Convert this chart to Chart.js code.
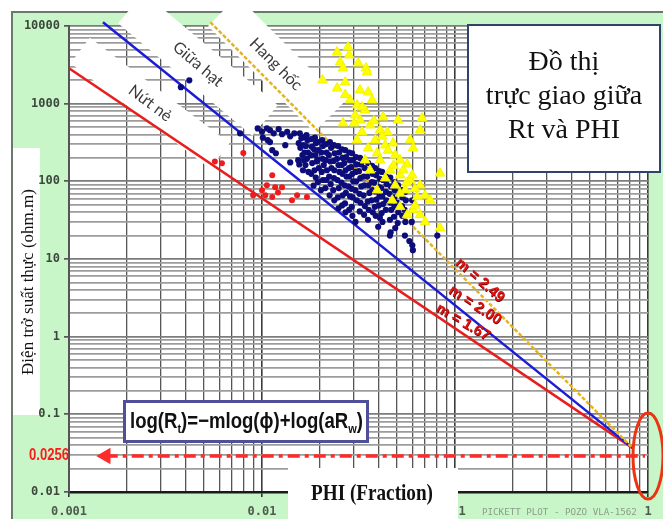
<!DOCTYPE html>
<html><head><meta charset="utf-8">
<script src="https://cdn.jsdelivr.net/npm/chart.js@4.4.0/dist/chart.umd.min.js"></script>
<style>html,body{margin:0;padding:0;background:#fff;overflow:hidden}canvas{display:block}</style>
</head><body>
<canvas id="c" width="663" height="519"></canvas>
<script>
// ---------- DATA ----------
const xTickLabels = ['0.001','0.01','0.1','1'];
const yTickLabels = ['0.01','0.1','1','10','100','1000','10000'];

// Nứt nẻ (red dots) [PHI, Rt]
const fracturePts = [[0.0080,231],[0.0062,171],[0.0057,180],[0.0113,120],[0.0106,89],[0.0117,84],[0.0127,84],
 [0.0090,66],[0.0104,66],[0.0113,63],[0.0152,66],[0.0143,57],[0.0171,63],[0.0100,77],[0.0121,72]];

// Giữa hạt (navy dots)
const intergranularPts = [
 [0.0042,2000],[0.0038,1630],[0.0077,415],
 [0.0095,480],[0.0100,435],[0.0106,480],[0.0110,456],[0.0115,415],[0.0101,365],[0.0107,339],[0.0122,470],[0.0127,405],
 [0.0135,435],[0.0140,380],[0.0147,415],[0.0110,320],[0.0113,252],[0.0118,230],[0.0140,175],[0.0154,187],[0.0132,292],
 [0.0157,415],[0.0160,360],[0.0155,310],[0.0158,270],[0.0162,217],[0.0156,165],
 [0.0170,393],[0.0172,339],[0.0169,285],[0.0173,235],[0.0171,195],[0.0168,162],[0.0174,132],
 [0.0188,365],[0.0190,310],[0.0186,258],[0.0189,217],[0.0192,180],[0.0187,139],[0.0190,112],[0.0185,88],
 [0.0205,339],[0.0207,285],[0.0203,235],[0.0206,195],[0.0209,162],[0.0204,132],[0.0207,104],[0.0202,77],
 [0.0225,320],[0.0228,270],[0.0222,217],[0.0226,180],[0.0229,148],[0.0223,115],[0.0227,92],[0.0224,66],
 [0.0248,285],[0.0251,235],[0.0245,195],[0.0249,162],[0.0252,132],[0.0246,104],[0.0250,82],[0.0247,62],[0.0249,45],
 [0.0270,252],[0.0273,205],[0.0267,172],[0.0271,139],[0.0274,115],[0.0268,89],[0.0272,71],[0.0269,52],[0.0271,40],
 [0.0293,230],[0.0296,187],[0.0290,152],[0.0294,125],[0.0297,100],[0.0291,80],[0.0295,62],[0.0292,47],[0.0294,36],
 [0.0322,200],[0.0326,165],[0.0318,135],[0.0323,110],[0.0327,86],[0.0320,69],[0.0324,53],[0.0321,41],
 [0.0355,172],[0.0359,139],[0.0351,115],[0.0356,89],[0.0360,71],[0.0353,55],[0.0357,43],[0.0354,32],
 [0.0386,148],[0.0390,120],[0.0382,96],[0.0387,74],[0.0391,58],[0.0384,47],[0.0388,36],
 [0.0419,132],[0.0423,104],[0.0415,82],[0.0420,64],[0.0424,51],[0.0417,39],[0.0421,30],
 [0.0462,112],[0.0466,86],[0.0458,69],[0.0463,53],[0.0467,43],[0.0460,32],[0.0464,22],
 [0.0507,89],[0.0511,71],[0.0503,53],[0.0508,40],[0.0505,29],
 [0.0552,73],[0.0556,57],[0.0548,43],[0.0553,30],[0.0550,20],
 [0.0600,57],[0.0604,43],[0.0597,30],[0.0601,15],
 [0.0605,13],[0.0580,17],[0.0810,20],[0.0460,20],[0.0400,26],[0.0305,30],[0.0490,25],
 [0.0165,372],[0.0164,292],[0.0166,235],[0.0165,187],[0.0163,139],
 [0.0180,350],[0.0181,278],[0.0179,217],[0.0182,172],[0.0180,125],
 [0.0195,320],[0.0196,252],[0.0194,190],[0.0197,148],[0.0195,98],
 [0.0215,302],[0.0216,235],[0.0214,187],[0.0217,139],[0.0215,104],[0.0213,82],
 [0.0236,292],[0.0238,230],[0.0235,183],[0.0237,139],[0.0236,110],[0.0234,77],[0.0237,57],
 [0.0260,258],[0.0262,200],[0.0259,162],[0.0261,125],[0.0258,96],[0.0262,66],[0.0260,49],
 [0.0283,235],[0.0285,187],[0.0282,148],[0.0284,115],[0.0281,86],[0.0286,64],[0.0283,43],
 [0.0307,205],[0.0309,165],[0.0306,132],[0.0308,100],[0.0305,77],[0.0310,57],
 [0.0338,187],[0.0340,148],[0.0337,115],[0.0339,89],[0.0336,66],[0.0341,48],[0.0338,37],
 [0.0372,158],[0.0374,125],[0.0371,98],[0.0373,77],[0.0370,57],[0.0375,40],
 [0.0405,135],[0.0407,108],[0.0404,84],[0.0406,64],[0.0403,49],[0.0408,34],
 [0.0440,115],[0.0442,92],[0.0439,73],[0.0441,57],[0.0438,43],
 [0.0485,98],[0.0487,77],[0.0484,62],[0.0486,47],[0.0483,35],
 [0.0532,77],[0.0534,62],[0.0531,48],[0.0533,36]];

// Hang hốc (yellow triangles)
const vugPts = [
 [0.0245,4600],[0.0283,4210],[0.0254,3420],[0.0263,2865],[0.0315,3320],[0.0346,2865],[0.0350,2540],[0.0206,2006],
 [0.0245,1580],[0.0270,1890],[0.0322,1492],[0.0355,1405],[0.0279,5330],
 [0.0311,957],[0.0263,561],[0.0322,613],[0.0424,670],[0.0675,650],[0.0446,430],[0.0311,339],[0.0478,310],[0.0607,267],
 [0.0395,231],[0.0565,166],[0.0836,127],[0.0395,77],[0.0519,70],[0.0637,63],[0.0519,47],[0.0607,43],[0.0565,37],
 [0.0286,1110],[0.0342,825],[0.0372,1110],[0.0304,711],[0.0363,529],[0.0409,456],[0.0330,430],[0.0386,339],[0.0435,292],
 [0.0355,267],[0.0490,217],[0.0409,187],[0.0462,139],[0.0519,120],[0.0435,110],[0.0586,104],[0.0490,89],[0.0659,89],
 [0.0552,77],[0.0700,66],[0.0622,49],[0.0659,37],[0.0744,57],[0.0700,30],[0.0836,25],[0.0473,57],[0.0363,139],
 [0.0342,187],[0.0519,187],[0.0586,339],[0.0507,613],[0.0659,456],
 [0.0450,250],[0.0480,160],[0.0540,140],[0.0600,120],[0.0560,95],[0.0620,80],[0.0380,600],[0.0420,380],[0.0300,560],
 [0.0330,900],[0.0270,1300]];

// Archie lines (read end points)
const lineM167 = [[0.001,2865],[0.83,0.037]];
const lineM200 = [[0.0015,11200],[0.83,0.037]];
const lineM249 = [[0.0054,11200],[0.83,0.037]];
const rwLine = [[0.00155,0.029],[0.965,0.029]];
const rwText = '0.0256';
const mLabels = ['m = 2.49','m = 2.00','m = 1.67'];
const mLabelAnchors = [[0.1348,5.35],[0.1268,2.55],[0.110,1.54]];
const zoneLabels = ['Nứt nẻ','Giữa hạt','Hang hốc'];
const zoneAnchors = [[0.00263,1014],[0.00466,3220],[0.0118,3220]];
const titleLines = ['Đồ thị','trực giao giữa','Rt và PHI'];
const yTitle = 'Điện trở suất thực (ohm.m)';
const xTitle = 'PHI (Fraction)';
const footer = 'PICKETT PLOT - POZO VLA-1562';

// ---------- helpers ----------
const toXY = a => a.map(p => ({x:p[0], y:p[1]}));
function tickValues(labels){
  const maj = labels.map(parseFloat);
  const out = [];
  for (let i=0;i<maj.length;i++){
    out.push(maj[i]);
    if (i<maj.length-1) for (let k=2;k<=9;k++) out.push(+(maj[i]*k).toPrecision(6));
  }
  return out;
}
function labelFor(labels, v){
  for (const l of labels) if (Math.abs(Math.log10(parseFloat(l)) - Math.log10(v)) < 1e-6) return l;
  return '';
}
const isMaj = (labels, v) => labelFor(labels, v) !== '';

// ---------- decorations ----------
const decor = {
  id:'decor',
  beforeDraw(chart){
    const {ctx, chartArea:a, width, height} = chart;
    ctx.save();
    ctx.fillStyle='#fff'; ctx.fillRect(0,0,width,height);
    ctx.fillStyle='#c8f6c8'; ctx.fillRect(12,12,width-12,height-12);
    ctx.strokeStyle='#6c786c'; ctx.lineWidth=2;
    ctx.beginPath(); ctx.moveTo(12,height); ctx.lineTo(12,12); ctx.lineTo(width,12); ctx.stroke();
    ctx.fillStyle='#fff';
    ctx.fillRect(13,148,27,267);
    ctx.fillRect(a.left,a.top,a.right-a.left,a.bottom-a.top);
    ctx.restore();
  },
  beforeDatasetsDraw(chart){
    const {ctx, scales:{x,y}} = chart;
    const specs = [[37,175,32],[40,175,40],[45,150,42]];
    ctx.save();
    zoneLabels.forEach((t,i)=>{
      const cx = x.getPixelForValue(zoneAnchors[i][0]), cy = y.getPixelForValue(zoneAnchors[i][1]);
      const [ang,len,th] = specs[i];
      ctx.save(); ctx.translate(cx,cy); ctx.rotate(ang*Math.PI/180);
      ctx.fillStyle='#fff'; ctx.fillRect(-len/2,-th/2,len,th);
      ctx.fillStyle='#3a3a3a'; ctx.font='16px Lato, "Open Sans", sans-serif';
      ctx.textAlign='center'; ctx.textBaseline='middle'; ctx.fillText(t,0,0);
      ctx.restore();
    });
    ctx.restore();
  },
  afterDraw(chart){
    const {ctx, chartArea:a, scales:{x,y}} = chart;
    ctx.save();
    // y title
    ctx.save(); ctx.translate(29,282); ctx.rotate(-Math.PI/2);
    ctx.fillStyle='#111'; ctx.font='17px "Liberation Serif", serif'; ctx.textAlign='center'; ctx.textBaseline='middle';
    ctx.fillText(yTitle,0,0); ctx.restore();
    // Rw label
    const ry = y.getPixelForValue(rwLine[0][1]);
    ctx.fillStyle='#ff1a1a'; ctx.font='bold 16px "Liberation Sans Narrow", "Liberation Sans", sans-serif';
    ctx.textAlign='right'; ctx.textBaseline='middle';
    const w = ctx.measureText(rwText).width;
    ctx.save(); ctx.translate(a.left, ry); ctx.scale(Math.min(1,40/w),1); ctx.fillText(rwText,0,0); ctx.restore();
    // ellipse
    ctx.strokeStyle='#ec3414'; ctx.lineWidth=3;
    ctx.beginPath(); ctx.ellipse(x.getPixelForValue(1), ry, 15, 43, 0, 0, Math.PI*2); ctx.stroke();
    // m labels
    const angs=[41,33,30];
    mLabels.forEach((t,i)=>{
      ctx.save();
      ctx.translate(x.getPixelForValue(mLabelAnchors[i][0]), y.getPixelForValue(mLabelAnchors[i][1]));
      ctx.rotate(angs[i]*Math.PI/180);
      ctx.font='bold 15px "Liberation Sans", sans-serif'; ctx.textAlign='center'; ctx.textBaseline='middle';
      ctx.fillStyle='#7a0000'; ctx.fillText(t,0.8,0.8);
      ctx.fillStyle='#e01414'; ctx.fillText(t,0,0);
      ctx.restore();
    });
    // title box
    ctx.fillStyle='#fff'; ctx.fillRect(467,24,194,149);
    ctx.strokeStyle='#2f4468'; ctx.lineWidth=2; ctx.strokeRect(468,25,192,147);
    ctx.fillStyle='#111'; ctx.font='28px "Liberation Serif", serif'; ctx.textAlign='center'; ctx.textBaseline='alphabetic';
    titleLines.forEach((t,i)=>ctx.fillText(t,564,70+34*i));
    // equation box
    ctx.fillStyle='#fff'; ctx.fillRect(123,400,246,43);
    ctx.strokeStyle='#4f4f9a'; ctx.lineWidth=3; ctx.strokeRect(124.5,401.5,243,40);
    const parts=[['log(R',0],['t',1],[')=\u2212mlog(',0],['\u03d5',0],[')+log(aR',0],['w',1],[')',0]];
    const big='bold 22px "Liberation Sans Narrow", "Liberation Sans", sans-serif';
    const small='bold 13px "Liberation Sans Narrow", "Liberation Sans", sans-serif';
    let tot=0; parts.forEach(p=>{ctx.font=p[1]?small:big; tot+=ctx.measureText(p[0]).width;});
    ctx.save(); ctx.translate(130,428); ctx.scale(233/tot,1);
    ctx.fillStyle='#111'; ctx.textAlign='left'; ctx.textBaseline='alphabetic';
    let cx=0; parts.forEach(p=>{ctx.font=p[1]?small:big; ctx.fillText(p[0],cx,p[1]?5:0); cx+=ctx.measureText(p[0]).width;});
    ctx.restore();
    // x title box
    ctx.fillStyle='#fff'; ctx.fillRect(288,468,170,51);
    ctx.fillStyle='#111'; ctx.font='bold 24px "Liberation Serif", serif'; ctx.textAlign='left';
    const xw = ctx.measureText(xTitle).width;
    ctx.save(); ctx.translate(311,500); ctx.scale(122/xw,1); ctx.fillText(xTitle,0,0); ctx.restore();
    // footer
    ctx.fillStyle='#8a9c8a'; ctx.font='9.2px "DejaVu Sans Mono", monospace'; ctx.textAlign='left'; ctx.textBaseline='middle';
    ctx.fillText(footer,482,513);
    ctx.restore();
  }
};

// ---------- chart ----------
const xVals = tickValues(xTickLabels), yVals = tickValues(yTickLabels);
new Chart(document.getElementById('c'), {
  type:'scatter',
  data:{datasets:[
    {data:toXY(vugPts), pointStyle:'triangle', pointRadius:5.6, backgroundColor:'#ffff00', borderColor:'#f4f400', borderWidth:1},
    {data:toXY(intergranularPts), pointRadius:3.1, backgroundColor:'#0d0d7a', borderWidth:0},
    {data:toXY(fracturePts), pointRadius:3, backgroundColor:'#f01c1c', borderWidth:0},
    {data:toXY(rwLine), showLine:true, borderColor:'#ff2a2a', borderWidth:3.5, borderDash:[12,5,4,5],
     pointStyle:'triangle', pointRadius:[6,0], pointRotation:[-90,0], backgroundColor:'#ff2a2a', borderCapStyle:'butt'},
    {data:toXY(lineM249), showLine:true, borderColor:'#e6b41e', borderWidth:2.5, borderDash:[4,2], pointRadius:0, clip:{left:0,top:5,right:0,bottom:0}},
    {data:toXY(lineM200), showLine:true, borderColor:'#1c1cd6', borderWidth:2.5, pointRadius:0, clip:{left:0,top:5,right:0,bottom:0}},
    {data:toXY(lineM167), showLine:true, borderColor:'#e81e1e', borderWidth:2.5, pointRadius:0, clip:{left:0,top:5,right:0,bottom:0}}
  ]},
  options:{
    responsive:false, animation:false, devicePixelRatio:1,
    layout:{padding:{left:0,top:26,right:15,bottom:0}},
    plugins:{legend:{display:false}, tooltip:{enabled:false}},
    scales:{
      x:{type:'logarithmic', min:0.001, max:1,
        afterBuildTicks:s=>{s.ticks = xVals.map(v=>({value:v}));},
        afterFit:s=>{s.height=27;},
        ticks:{autoSkip:false, maxRotation:0, padding:8, color:'#4e5a4e',
          font:{family:'"DejaVu Sans Mono", monospace', size:12, weight:'bold'},
          callback:v=>labelFor(xTickLabels,v)},
        grid:{color:c=>isMaj(xTickLabels,c.tick.value)?'#3a3a3a':'#555',
              lineWidth:c=>isMaj(xTickLabels,c.tick.value)?1.6:1.3,
              tickColor:c=>isMaj(xTickLabels,c.tick.value)?'#333':'rgba(0,0,0,0)', tickLength:5},
        border:{color:'#1a1a1a', width:2.5}},
      y:{type:'logarithmic', min:0.01, max:10000,
        afterBuildTicks:s=>{s.ticks = yVals.map(v=>({value:v}));},
        afterFit:s=>{s.width=69;},
        ticks:{autoSkip:false, padding:4, color:'#3c483c',
          font:{family:'"DejaVu Sans Mono", monospace', size:12, weight:'bold'},
          callback:v=>labelFor(yTickLabels,v)},
        grid:{color:c=>isMaj(yTickLabels,c.tick.value)?'#7c7c7c':'#9c9c9c',
              lineWidth:1.7,
              tickColor:c=>isMaj(yTickLabels,c.tick.value)?'#555':'rgba(0,0,0,0)', tickLength:5},
        border:{color:'#555', width:2}}
    }
  },
  plugins:[decor]
});
</script>
</body></html>
